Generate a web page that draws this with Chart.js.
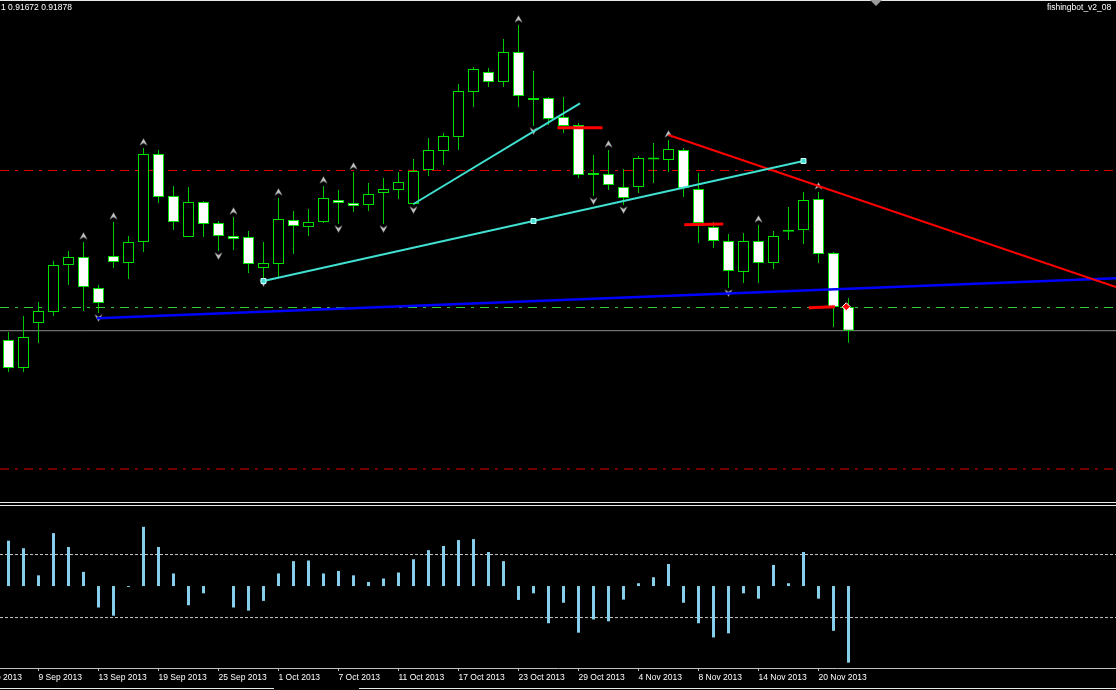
<!DOCTYPE html>
<html>
<head>
<meta charset="utf-8">
<script src="https://cdn.jsdelivr.net/npm/chart.js@4.4.1/dist/chart.umd.min.js"></script>
<style>
html,body{margin:0;padding:0;background:#000;}
#wrap{position:relative;width:1116px;height:690px;overflow:hidden;background:#000;font-family:"Liberation Sans",Arial,sans-serif;}
#wrap canvas{position:absolute;left:0;}
.ln{position:absolute;height:1px;background:#e8e8e8;}
.txt{position:absolute;color:#fff;font-size:8.5px;line-height:9px;white-space:nowrap;}
</style>
</head>
<body>
<div id="wrap">
  <canvas id="main" width="1116" height="500" style="top:0"></canvas>
  <canvas id="ind" width="1116" height="184" style="top:506px"></canvas>
  <div class="ln" style="top:0;left:0;width:1116px"></div>
  <div style="position:absolute;left:870px;top:0;width:0;height:0;border-left:6px solid transparent;border-right:6px solid transparent;border-top:6px solid #9a9a9a"></div>
  <div class="ln" style="top:502px;left:0;width:1116px"></div>
  <div class="ln" style="top:505px;left:0;width:1116px"></div>
  <div class="ln" style="top:688px;left:0;width:274px"></div>
  <div class="ln" style="top:688px;left:359px;width:757px"></div>
  <div class="txt" style="left:1px;top:3px">1 0.91672 0.91878</div>
  <div class="txt" style="left:1047px;top:3px">fishingbot_v2_08</div>
</div>
<script>
// daily candles, bar 0 .. 56
const open = [0.91720, 0.91244, 0.92009, 0.92196, 0.92995, 0.93131, 0.92604, 0.93148, 0.93029, 0.93386,
  0.94882, 0.94168, 0.93471, 0.94066, 0.93709, 0.93488, 0.93471, 0.92944, 0.93012, 0.93760,
  0.93641, 0.93726, 0.94100, 0.94049, 0.94015, 0.94219, 0.94270, 0.94032, 0.94610, 0.94933,
  0.95171, 0.95936, 0.96276, 0.96106, 0.96616, 0.95800, 0.95834, 0.95511, 0.95375, 0.94542,
  0.94542, 0.94321, 0.94321, 0.94797, 0.94780, 0.94950, 0.94287, 0.93641, 0.93403, 0.92876,
  0.93403, 0.93029, 0.93573, 0.93590, 0.94117, 0.93199, 0.92281];
const high = [0.91856, 0.92128, 0.92366, 0.93063, 0.93233, 0.93386, 0.92655, 0.93726, 0.93488, 0.94984,
  0.94950, 0.94338, 0.94321, 0.94083, 0.93743, 0.93811, 0.93573, 0.93386, 0.94134, 0.93913,
  0.93947, 0.94338, 0.94270, 0.94576, 0.94389, 0.94474, 0.94576, 0.94797, 0.95154, 0.95239,
  0.96072, 0.96361, 0.96344, 0.96837, 0.97075, 0.96293, 0.95851, 0.95851, 0.95409, 0.94865,
  0.94950, 0.94627, 0.94848, 0.95069, 0.95120, 0.94984, 0.94559, 0.93726, 0.93522, 0.93539,
  0.93675, 0.93573, 0.93981, 0.94236, 0.94236, 0.93216, 0.92434];
const low = [0.91176, 0.91176, 0.91669, 0.92128, 0.92655, 0.92213, 0.92179, 0.92944, 0.92757, 0.93216,
  0.94049, 0.93590, 0.93471, 0.93471, 0.93233, 0.93250, 0.92859, 0.92774, 0.92791, 0.93182,
  0.93488, 0.93709, 0.93692, 0.93896, 0.93913, 0.93692, 0.94117, 0.94015, 0.94508, 0.94695,
  0.94950, 0.95681, 0.96021, 0.96021, 0.95681, 0.95358, 0.95375, 0.95239, 0.94474, 0.94168,
  0.94270, 0.94015, 0.94219, 0.94389, 0.94576, 0.94151, 0.93369, 0.93284, 0.92604, 0.92689,
  0.92689, 0.92927, 0.93420, 0.93352, 0.93029, 0.91941, 0.91672];
const close = [0.91244, 0.91771, 0.92213, 0.92995, 0.93131, 0.92621, 0.92349, 0.93046, 0.93386, 0.94882,
  0.94151, 0.93726, 0.94066, 0.93692, 0.93488, 0.93437, 0.93012, 0.93029, 0.93777, 0.93658,
  0.93726, 0.94134, 0.94049, 0.93998, 0.94202, 0.94287, 0.94406, 0.94593, 0.94950, 0.95188,
  0.95953, 0.96327, 0.96106, 0.96616, 0.95868, 0.95834, 0.95477, 0.95358, 0.94525, 0.94525,
  0.94355, 0.94134, 0.94814, 0.94790, 0.94967, 0.94304, 0.93709, 0.93403, 0.92893, 0.93403,
  0.93029, 0.93488, 0.93560, 0.94100, 0.93182, 0.92281, 0.91878];

// oscillator histogram (lower window), levels +/-100
const cci = [144, 120, 34, 168, 124, 45, -68, -94, -3, 188,
  124, 40, -61, -23, 0, -68, -78, -47, 40, 79,
  81, 40, 48, 34, 13, 24, 43, 85, 114, 127,
  146, 149, 108, 79, -44, -23, -118, -53, -148, -106,
  -112, -43, 9, 28, 70, -53, -118, -163, -150, -23,
  -40, 67, 9, 108, -40, -142, -243];
const cciLevels = [100, -100];

const tickIdx = [-2, 2, 6, 10, 14, 18, 22, 26, 30, 34, 38, 42, 46, 50, 54];
const tickLabels = ['3 Sep 2013', '9 Sep 2013', '13 Sep 2013', '19 Sep 2013', '25 Sep 2013', '1 Oct 2013', '7 Oct 2013',
  '11 Oct 2013', '17 Oct 2013', '23 Oct 2013', '29 Oct 2013', '4 Nov 2013', '8 Nov 2013', '14 Nov 2013', '20 Nov 2013'];

const fractalUp = [5, 7, 9, 15, 18, 21, 23, 34, 40, 44, 50, 54];
const fractalDown = [6, 14, 17, 22, 25, 27, 35, 39, 41, 48];

// drawn objects, in (bar index, price)
const blueLine = [{x: 5.9, y: 0.92089}, {x: 73.83, y: 0.92769}];
const cyanLong = [{x: 17, y: 0.92723}, {x: 35, y: 0.93743}, {x: 53, y: 0.94763}];
const cyanShort = [{x: 27, y: 0.94032}, {x: 38.1, y: 0.95744}];
const redTrend = [{x: 44, y: 0.95205}, {x: 73.83, y: 0.92621}];
const redSeg1 = [{x: 36.6, y: 0.95329}, {x: 39.6, y: 0.95329}];
const redSeg2 = [{x: 45.05, y: 0.93680}, {x: 47.65, y: 0.93690}];
const redSeg3 = [{x: 53.35, y: 0.92269}, {x: 55.1, y: 0.92286}];
const redMark = [{x: 55.85, y: 0.92286}];
const redLevels = [0.94602, 0.89527];
const greenLevel = 0.922725;

const X_MIN = -8.5 / 15, X_MAX = X_MIN + 1116 / 15;

const hline = (y, color, dash, order) => ({type: 'line', data: [{x: X_MIN, y}, {x: X_MAX, y}], borderColor: color,
  borderWidth: 1, borderDash: dash || [], pointRadius: 0, order});
const seg = (pts, color, width, order) => ({type: 'line', data: pts, borderColor: color, borderWidth: width,
  pointRadius: 0, tension: 0, order});

function arrowImg(up, off){
  const c = document.createElement('canvas');
  c.width = 9; c.height = off * 2 + 9;
  const g = c.getContext('2d');
  const cy = c.height / 2 + (up ? -off : off);
  g.fillStyle = '#c4c4c8';
  g.beginPath();
  if(up){ g.moveTo(0.5, cy + 3.5); g.lineTo(4.5, cy - 3.5); g.lineTo(8.5, cy + 3.5); g.lineTo(4.5, cy + 1); }
  else { g.moveTo(0.5, cy - 3.5); g.lineTo(4.5, cy + 3.5); g.lineTo(8.5, cy - 3.5); g.lineTo(4.5, cy - 1); }
  g.closePath(); g.fill();
  return c;
}

const common = {responsive: false, animation: false, events: [], layout: {padding: 0, autoPadding: false},
  plugins: {legend: {display: false}, tooltip: {enabled: false}}};

new Chart(document.getElementById('main').getContext('2d'), {
  type: 'bar',
  data: {datasets: [
    Object.assign(seg(cyanLong, '#40e0d0', 2, 0), {pointRadius: 3.5, pointStyle: 'rect',
      pointBackgroundColor: '#40e0d0', pointBorderColor: '#d0ffff', pointBorderWidth: 1}),
    seg(cyanShort, '#40e0d0', 2, 0),
    seg(redTrend, '#ff0000', 2, 0),
    seg(blueLine, '#0000ff', 2.5, 0),
    seg(redSeg1, '#ff0000', 3, 0),
    seg(redSeg2, '#ff0000', 3, 0),
    seg(redSeg3, '#ff0000', 3, 0),
    {type: 'line', showLine: false, data: redMark, pointStyle: 'rectRot', pointRadius: 4,
      pointBackgroundColor: '#ff0000', pointBorderColor: '#ffffff', pointBorderWidth: 1, order: 0},
    {type: 'line', showLine: false, data: fractalUp.map(i => ({x: i, y: high[i]})),
      pointStyle: arrowImg(true, 6), pointRadius: 5, order: 1},
    {type: 'line', showLine: false, data: fractalDown.map(i => ({x: i, y: low[i]})),
      pointStyle: arrowImg(false, 5), pointRadius: 5, order: 1},
    {type: 'bar', data: open.map((o, i) => ({x: i, y: [Math.min(o, close[i]), Math.max(o, close[i])]})),
      backgroundColor: open.map((o, i) => close[i] >= o ? '#000000' : '#ffffff'),
      borderColor: '#00e000', borderWidth: 1, borderSkipped: false, barThickness: 11,
      grouped: false, inflateAmount: 0, minBarLength: 2, order: 5},
    {type: 'bar', data: high.map((h, i) => ({x: i, y: [low[i], h]})), backgroundColor: '#00c800',
      borderWidth: 0, barThickness: 1, grouped: false, inflateAmount: 0, order: 6},
    hline(redLevels[0], '#e00000', [9, 6, 3, 6], 7),
    hline(redLevels[1], '#e00000', [9, 6, 3, 6], 7),
    hline(greenLevel, '#32cd32', [9, 6, 3, 6], 7),
    hline(close[close.length - 1], '#8c8c8c', [], 7)
  ]},
  options: Object.assign({}, common, {
    scales: {
      x: {type: 'linear', min: X_MIN, max: X_MAX, display: false, offset: false, grid: {offset: false}},
      y: {type: 'linear', min: 0.89, max: 0.975, display: false}
    }
  })
});

new Chart(document.getElementById('ind').getContext('2d'), {
  type: 'bar',
  data: {datasets: [
    {type: 'bar', data: cci.map((v, i) => ({x: i, y: v})), backgroundColor: '#87ceeb', borderWidth: 0,
      barThickness: 3, grouped: false, inflateAmount: 0, order: 1},
    hline(cciLevels[0], '#c8c8c8', [3, 2], 2),
    hline(cciLevels[1], '#c8c8c8', [3, 2], 2)
  ]},
  options: Object.assign({}, common, {
    scales: {
      x: {type: 'linear', min: X_MIN, max: X_MAX, offset: false,
        grid: {display: true, offset: false, drawOnChartArea: false, drawTicks: true, tickLength: 3, color: '#c0c0c0'},
        border: {display: true, color: '#c0c0c0'},
        ticks: {autoSkip: false, maxRotation: 0, align: 'start', padding: 2, color: '#ffffff',
          font: {family: 'Liberation Sans', size: 8.5}, callback: (v, i) => tickLabels[i]},
        afterBuildTicks: s => { s.ticks = tickIdx.map(v => ({value: v})); },
        afterFit: s => { s.height = 22; s.paddingLeft = 0; s.paddingRight = 0; }},
      y: {type: 'linear', min: -260, max: 254, display: false}
    }
  })
});
</script>
</body>
</html>
